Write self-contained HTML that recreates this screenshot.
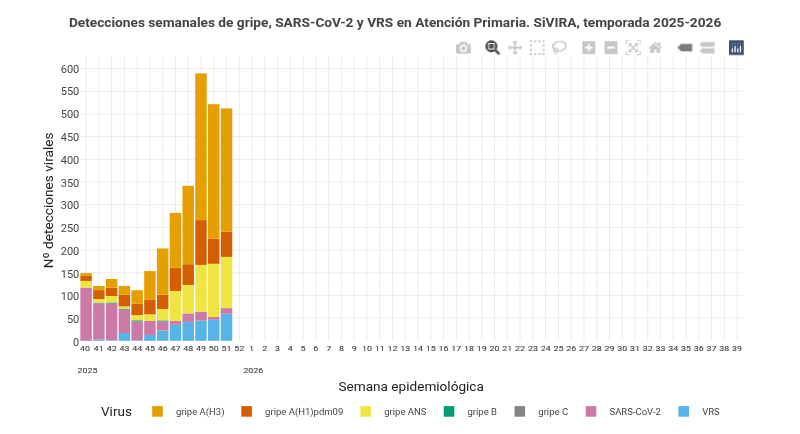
<!DOCTYPE html><html><head><meta charset="utf-8"><title>SiVIRA</title><style>html,body{margin:0;padding:0;background:#fff;overflow:hidden}svg{display:block;will-change:transform}text{font-family:Roboto, 'Liberation Sans', Arial, sans-serif}</style></head><body>
<svg width="800" height="434" viewBox="0 0 800 434">
<rect width="800" height="434" fill="#fff"/>
<path d="M86.10 56.20V340.80M98.86 56.20V340.80M111.63 56.20V340.80M124.39 56.20V340.80M137.16 56.20V340.80M149.93 56.20V340.80M162.69 56.20V340.80M175.45 56.20V340.80M188.22 56.20V340.80M200.99 56.20V340.80M213.75 56.20V340.80M226.52 56.20V340.80M239.28 56.20V340.80M252.04 56.20V340.80M264.81 56.20V340.80M277.58 56.20V340.80M290.34 56.20V340.80M303.11 56.20V340.80M315.87 56.20V340.80M328.63 56.20V340.80M341.40 56.20V340.80M354.16 56.20V340.80M366.93 56.20V340.80M379.70 56.20V340.80M392.46 56.20V340.80M405.23 56.20V340.80M417.99 56.20V340.80M430.75 56.20V340.80M443.52 56.20V340.80M456.28 56.20V340.80M469.05 56.20V340.80M481.82 56.20V340.80M494.58 56.20V340.80M507.35 56.20V340.80M520.11 56.20V340.80M532.88 56.20V340.80M545.64 56.20V340.80M558.40 56.20V340.80M571.17 56.20V340.80M583.94 56.20V340.80M596.70 56.20V340.80M609.47 56.20V340.80M622.23 56.20V340.80M635.00 56.20V340.80M647.76 56.20V340.80M660.53 56.20V340.80M673.29 56.20V340.80M686.06 56.20V340.80M698.82 56.20V340.80M711.59 56.20V340.80M724.35 56.20V340.80M737.12 56.20V340.80M80.35 318.12H742.85M80.35 295.44H742.85M80.35 272.76H742.85M80.35 250.09H742.85M80.35 227.41H742.85M80.35 204.73H742.85M80.35 182.05H742.85M80.35 159.37H742.85M80.35 136.69H742.85M80.35 114.02H742.85M80.35 91.34H742.85M80.35 68.66H742.85" stroke="#ebebeb" stroke-width="1" fill="none"/>
<rect x="80.35" y="287.60" width="11.49" height="53.20" fill="#CC79A7"/>
<rect x="80.35" y="280.90" width="11.49" height="6.70" fill="#F0E442"/>
<rect x="80.35" y="275.90" width="11.49" height="5.00" fill="#D55E00"/>
<rect x="80.35" y="273.10" width="11.49" height="2.80" fill="#E69F00"/>
<rect x="93.12" y="339.70" width="11.49" height="1.10" fill="#56B4E9"/>
<rect x="93.12" y="303.30" width="11.49" height="36.40" fill="#CC79A7"/>
<rect x="93.12" y="302.70" width="11.49" height="0.60" fill="#009E73"/>
<rect x="93.12" y="299.10" width="11.49" height="3.60" fill="#F0E442"/>
<rect x="93.12" y="290.10" width="11.49" height="9.00" fill="#D55E00"/>
<rect x="93.12" y="286.00" width="11.49" height="4.10" fill="#E69F00"/>
<rect x="105.88" y="340.30" width="11.49" height="0.50" fill="#56B4E9"/>
<rect x="105.88" y="303.50" width="11.49" height="36.80" fill="#CC79A7"/>
<rect x="105.88" y="302.50" width="11.49" height="1.00" fill="#009E73"/>
<rect x="105.88" y="296.00" width="11.49" height="6.50" fill="#F0E442"/>
<rect x="105.88" y="287.70" width="11.49" height="8.30" fill="#D55E00"/>
<rect x="105.88" y="279.00" width="11.49" height="8.70" fill="#E69F00"/>
<rect x="118.65" y="333.00" width="11.49" height="7.80" fill="#56B4E9"/>
<rect x="118.65" y="309.60" width="11.49" height="23.40" fill="#CC79A7"/>
<rect x="118.65" y="308.60" width="11.49" height="1.00" fill="#009E73"/>
<rect x="118.65" y="306.40" width="11.49" height="2.20" fill="#F0E442"/>
<rect x="118.65" y="294.80" width="11.49" height="11.60" fill="#D55E00"/>
<rect x="118.65" y="285.90" width="11.49" height="8.90" fill="#E69F00"/>
<rect x="131.41" y="340.20" width="11.49" height="0.60" fill="#56B4E9"/>
<rect x="131.41" y="321.50" width="11.49" height="18.70" fill="#CC79A7"/>
<rect x="131.41" y="320.30" width="11.49" height="1.20" fill="#009E73"/>
<rect x="131.41" y="315.10" width="11.49" height="5.20" fill="#F0E442"/>
<rect x="131.41" y="303.80" width="11.49" height="11.30" fill="#D55E00"/>
<rect x="131.41" y="290.20" width="11.49" height="13.60" fill="#E69F00"/>
<rect x="144.18" y="335.00" width="11.49" height="5.80" fill="#56B4E9"/>
<rect x="144.18" y="320.80" width="11.49" height="14.20" fill="#CC79A7"/>
<rect x="144.18" y="314.40" width="11.49" height="6.40" fill="#F0E442"/>
<rect x="144.18" y="299.90" width="11.49" height="14.50" fill="#D55E00"/>
<rect x="144.18" y="271.10" width="11.49" height="28.80" fill="#E69F00"/>
<rect x="156.94" y="330.50" width="11.49" height="10.30" fill="#56B4E9"/>
<rect x="156.94" y="321.40" width="11.49" height="9.10" fill="#CC79A7"/>
<rect x="156.94" y="320.40" width="11.49" height="1.00" fill="#009E73"/>
<rect x="156.94" y="309.00" width="11.49" height="11.40" fill="#F0E442"/>
<rect x="156.94" y="294.70" width="11.49" height="14.30" fill="#D55E00"/>
<rect x="156.94" y="248.50" width="11.49" height="46.20" fill="#E69F00"/>
<rect x="169.71" y="324.80" width="11.49" height="16.00" fill="#56B4E9"/>
<rect x="169.71" y="320.80" width="11.49" height="4.00" fill="#CC79A7"/>
<rect x="169.71" y="291.00" width="11.49" height="29.80" fill="#F0E442"/>
<rect x="169.71" y="267.70" width="11.49" height="23.30" fill="#D55E00"/>
<rect x="169.71" y="212.90" width="11.49" height="54.80" fill="#E69F00"/>
<rect x="182.47" y="321.90" width="11.49" height="18.90" fill="#56B4E9"/>
<rect x="182.47" y="313.40" width="11.49" height="8.50" fill="#CC79A7"/>
<rect x="182.47" y="285.00" width="11.49" height="28.40" fill="#F0E442"/>
<rect x="182.47" y="264.20" width="11.49" height="20.80" fill="#D55E00"/>
<rect x="182.47" y="185.80" width="11.49" height="78.40" fill="#E69F00"/>
<rect x="195.24" y="320.60" width="11.49" height="20.20" fill="#56B4E9"/>
<rect x="195.24" y="311.80" width="11.49" height="8.80" fill="#CC79A7"/>
<rect x="195.24" y="264.90" width="11.49" height="46.90" fill="#F0E442"/>
<rect x="195.24" y="220.10" width="11.49" height="44.80" fill="#D55E00"/>
<rect x="195.24" y="73.40" width="11.49" height="146.70" fill="#E69F00"/>
<rect x="208.00" y="319.80" width="11.49" height="21.00" fill="#56B4E9"/>
<rect x="208.00" y="317.00" width="11.49" height="2.80" fill="#CC79A7"/>
<rect x="208.00" y="263.80" width="11.49" height="53.20" fill="#F0E442"/>
<rect x="208.00" y="238.80" width="11.49" height="25.00" fill="#D55E00"/>
<rect x="208.00" y="104.20" width="11.49" height="134.60" fill="#E69F00"/>
<rect x="220.77" y="313.80" width="11.49" height="27.00" fill="#56B4E9"/>
<rect x="220.77" y="308.10" width="11.49" height="5.70" fill="#CC79A7"/>
<rect x="220.77" y="256.90" width="11.49" height="51.20" fill="#F0E442"/>
<rect x="220.77" y="231.80" width="11.49" height="25.10" fill="#D55E00"/>
<rect x="220.77" y="108.40" width="11.49" height="123.40" fill="#E69F00"/>
<text x="79.3" y="345.90" font-size="11" fill="#444" text-anchor="end">0</text>
<text x="79.3" y="323.13" font-size="11" fill="#444" text-anchor="end">50</text>
<text x="79.3" y="300.37" font-size="11" fill="#444" text-anchor="end">100</text>
<text x="79.3" y="277.60" font-size="11" fill="#444" text-anchor="end">150</text>
<text x="79.3" y="254.83" font-size="11" fill="#444" text-anchor="end">200</text>
<text x="79.3" y="232.07" font-size="11" fill="#444" text-anchor="end">250</text>
<text x="79.3" y="209.30" font-size="11" fill="#444" text-anchor="end">300</text>
<text x="79.3" y="186.53" font-size="11" fill="#444" text-anchor="end">350</text>
<text x="79.3" y="163.77" font-size="11" fill="#444" text-anchor="end">400</text>
<text x="79.3" y="141.00" font-size="11" fill="#444" text-anchor="end">450</text>
<text x="79.3" y="118.23" font-size="11" fill="#444" text-anchor="end">500</text>
<text x="79.3" y="95.46" font-size="11" fill="#444" text-anchor="end">550</text>
<text x="79.3" y="72.70" font-size="11" fill="#444" text-anchor="end">600</text>
<text transform="matrix(1 0 0 0.91 85.10 351.1)" font-size="8.9" fill="#444" stroke="#444" stroke-width="0.12" text-anchor="middle">40</text>
<text transform="matrix(1 0 0 0.91 98.86 351.1)" font-size="8.9" fill="#444" stroke="#444" stroke-width="0.12" text-anchor="middle">41</text>
<text transform="matrix(1 0 0 0.91 111.63 351.1)" font-size="8.9" fill="#444" stroke="#444" stroke-width="0.12" text-anchor="middle">42</text>
<text transform="matrix(1 0 0 0.91 124.39 351.1)" font-size="8.9" fill="#444" stroke="#444" stroke-width="0.12" text-anchor="middle">43</text>
<text transform="matrix(1 0 0 0.91 137.16 351.1)" font-size="8.9" fill="#444" stroke="#444" stroke-width="0.12" text-anchor="middle">44</text>
<text transform="matrix(1 0 0 0.91 149.93 351.1)" font-size="8.9" fill="#444" stroke="#444" stroke-width="0.12" text-anchor="middle">45</text>
<text transform="matrix(1 0 0 0.91 162.69 351.1)" font-size="8.9" fill="#444" stroke="#444" stroke-width="0.12" text-anchor="middle">46</text>
<text transform="matrix(1 0 0 0.91 175.45 351.1)" font-size="8.9" fill="#444" stroke="#444" stroke-width="0.12" text-anchor="middle">47</text>
<text transform="matrix(1 0 0 0.91 188.22 351.1)" font-size="8.9" fill="#444" stroke="#444" stroke-width="0.12" text-anchor="middle">48</text>
<text transform="matrix(1 0 0 0.91 200.99 351.1)" font-size="8.9" fill="#444" stroke="#444" stroke-width="0.12" text-anchor="middle">49</text>
<text transform="matrix(1 0 0 0.91 213.75 351.1)" font-size="8.9" fill="#444" stroke="#444" stroke-width="0.12" text-anchor="middle">50</text>
<text transform="matrix(1 0 0 0.91 226.52 351.1)" font-size="8.9" fill="#444" stroke="#444" stroke-width="0.12" text-anchor="middle">51</text>
<text transform="matrix(1 0 0 0.91 239.28 351.1)" font-size="8.9" fill="#444" stroke="#444" stroke-width="0.12" text-anchor="middle">52</text>
<text transform="matrix(1 0 0 0.91 251.44 351.1)" font-size="8.9" fill="#444" stroke="#444" stroke-width="0.12" text-anchor="middle">1</text>
<text transform="matrix(1 0 0 0.91 264.81 351.1)" font-size="8.9" fill="#444" stroke="#444" stroke-width="0.12" text-anchor="middle">2</text>
<text transform="matrix(1 0 0 0.91 277.58 351.1)" font-size="8.9" fill="#444" stroke="#444" stroke-width="0.12" text-anchor="middle">3</text>
<text transform="matrix(1 0 0 0.91 290.34 351.1)" font-size="8.9" fill="#444" stroke="#444" stroke-width="0.12" text-anchor="middle">4</text>
<text transform="matrix(1 0 0 0.91 303.11 351.1)" font-size="8.9" fill="#444" stroke="#444" stroke-width="0.12" text-anchor="middle">5</text>
<text transform="matrix(1 0 0 0.91 315.87 351.1)" font-size="8.9" fill="#444" stroke="#444" stroke-width="0.12" text-anchor="middle">6</text>
<text transform="matrix(1 0 0 0.91 328.63 351.1)" font-size="8.9" fill="#444" stroke="#444" stroke-width="0.12" text-anchor="middle">7</text>
<text transform="matrix(1 0 0 0.91 341.40 351.1)" font-size="8.9" fill="#444" stroke="#444" stroke-width="0.12" text-anchor="middle">8</text>
<text transform="matrix(1 0 0 0.91 354.16 351.1)" font-size="8.9" fill="#444" stroke="#444" stroke-width="0.12" text-anchor="middle">9</text>
<text transform="matrix(1 0 0 0.91 366.93 351.1)" font-size="8.9" fill="#444" stroke="#444" stroke-width="0.12" text-anchor="middle">10</text>
<text transform="matrix(1 0 0 0.91 379.70 351.1)" font-size="8.9" fill="#444" stroke="#444" stroke-width="0.12" text-anchor="middle">11</text>
<text transform="matrix(1 0 0 0.91 392.46 351.1)" font-size="8.9" fill="#444" stroke="#444" stroke-width="0.12" text-anchor="middle">12</text>
<text transform="matrix(1 0 0 0.91 405.23 351.1)" font-size="8.9" fill="#444" stroke="#444" stroke-width="0.12" text-anchor="middle">13</text>
<text transform="matrix(1 0 0 0.91 417.99 351.1)" font-size="8.9" fill="#444" stroke="#444" stroke-width="0.12" text-anchor="middle">14</text>
<text transform="matrix(1 0 0 0.91 430.75 351.1)" font-size="8.9" fill="#444" stroke="#444" stroke-width="0.12" text-anchor="middle">15</text>
<text transform="matrix(1 0 0 0.91 443.52 351.1)" font-size="8.9" fill="#444" stroke="#444" stroke-width="0.12" text-anchor="middle">16</text>
<text transform="matrix(1 0 0 0.91 456.28 351.1)" font-size="8.9" fill="#444" stroke="#444" stroke-width="0.12" text-anchor="middle">17</text>
<text transform="matrix(1 0 0 0.91 469.05 351.1)" font-size="8.9" fill="#444" stroke="#444" stroke-width="0.12" text-anchor="middle">18</text>
<text transform="matrix(1 0 0 0.91 481.82 351.1)" font-size="8.9" fill="#444" stroke="#444" stroke-width="0.12" text-anchor="middle">19</text>
<text transform="matrix(1 0 0 0.91 494.58 351.1)" font-size="8.9" fill="#444" stroke="#444" stroke-width="0.12" text-anchor="middle">20</text>
<text transform="matrix(1 0 0 0.91 507.35 351.1)" font-size="8.9" fill="#444" stroke="#444" stroke-width="0.12" text-anchor="middle">21</text>
<text transform="matrix(1 0 0 0.91 520.11 351.1)" font-size="8.9" fill="#444" stroke="#444" stroke-width="0.12" text-anchor="middle">22</text>
<text transform="matrix(1 0 0 0.91 532.88 351.1)" font-size="8.9" fill="#444" stroke="#444" stroke-width="0.12" text-anchor="middle">23</text>
<text transform="matrix(1 0 0 0.91 545.64 351.1)" font-size="8.9" fill="#444" stroke="#444" stroke-width="0.12" text-anchor="middle">24</text>
<text transform="matrix(1 0 0 0.91 558.40 351.1)" font-size="8.9" fill="#444" stroke="#444" stroke-width="0.12" text-anchor="middle">25</text>
<text transform="matrix(1 0 0 0.91 571.17 351.1)" font-size="8.9" fill="#444" stroke="#444" stroke-width="0.12" text-anchor="middle">26</text>
<text transform="matrix(1 0 0 0.91 583.94 351.1)" font-size="8.9" fill="#444" stroke="#444" stroke-width="0.12" text-anchor="middle">27</text>
<text transform="matrix(1 0 0 0.91 596.70 351.1)" font-size="8.9" fill="#444" stroke="#444" stroke-width="0.12" text-anchor="middle">28</text>
<text transform="matrix(1 0 0 0.91 609.47 351.1)" font-size="8.9" fill="#444" stroke="#444" stroke-width="0.12" text-anchor="middle">29</text>
<text transform="matrix(1 0 0 0.91 622.23 351.1)" font-size="8.9" fill="#444" stroke="#444" stroke-width="0.12" text-anchor="middle">30</text>
<text transform="matrix(1 0 0 0.91 635.00 351.1)" font-size="8.9" fill="#444" stroke="#444" stroke-width="0.12" text-anchor="middle">31</text>
<text transform="matrix(1 0 0 0.91 647.76 351.1)" font-size="8.9" fill="#444" stroke="#444" stroke-width="0.12" text-anchor="middle">32</text>
<text transform="matrix(1 0 0 0.91 660.53 351.1)" font-size="8.9" fill="#444" stroke="#444" stroke-width="0.12" text-anchor="middle">33</text>
<text transform="matrix(1 0 0 0.91 673.29 351.1)" font-size="8.9" fill="#444" stroke="#444" stroke-width="0.12" text-anchor="middle">34</text>
<text transform="matrix(1 0 0 0.91 686.06 351.1)" font-size="8.9" fill="#444" stroke="#444" stroke-width="0.12" text-anchor="middle">35</text>
<text transform="matrix(1 0 0 0.91 698.82 351.1)" font-size="8.9" fill="#444" stroke="#444" stroke-width="0.12" text-anchor="middle">36</text>
<text transform="matrix(1 0 0 0.91 711.59 351.1)" font-size="8.9" fill="#444" stroke="#444" stroke-width="0.12" text-anchor="middle">37</text>
<text transform="matrix(1 0 0 0.91 724.35 351.1)" font-size="8.9" fill="#444" stroke="#444" stroke-width="0.12" text-anchor="middle">38</text>
<text transform="matrix(1 0 0 0.91 737.12 351.1)" font-size="8.9" fill="#444" stroke="#444" stroke-width="0.12" text-anchor="middle">39</text>
<text transform="matrix(1 0 0 0.91 87.4 373.2)" font-size="8.9" fill="#444" stroke="#444" stroke-width="0.12" text-anchor="middle">2025</text>
<text transform="matrix(1 0 0 0.91 253.3 373.2)" font-size="8.9" fill="#444" stroke="#444" stroke-width="0.12" text-anchor="middle">2026</text>
<text x="411.2" y="391.2" font-size="13.6" fill="#222" text-anchor="middle">Semana epidemiológica</text>
<text transform="translate(53.4 200.4) rotate(-90)" x="0" y="0" font-size="13.65" fill="#222" text-anchor="middle">Nº detecciones virales</text>
<text x="395.1" y="26.8" font-size="13.7" font-weight="bold" fill="#444" text-anchor="middle">Detecciones semanales de gripe, SARS-CoV-2 y VRS en Atención Primaria. SiVIRA, temporada 2025-2026</text>
<text x="101" y="415.5" font-size="13.5" fill="#222">Virus</text>
<rect x="152.2" y="406.1" width="10.6" height="10.6" fill="#E69F00"/>
<text x="176.0" y="415" font-size="9.5" fill="#444">gripe A(H3)</text>
<rect x="241.3" y="406.1" width="10.6" height="10.6" fill="#D55E00"/>
<text x="265.1" y="415" font-size="9.5" fill="#444">gripe A(H1)pdm09</text>
<rect x="360.4" y="406.1" width="10.6" height="10.6" fill="#F0E442"/>
<text x="384.2" y="415" font-size="9.5" fill="#444">gripe ANS</text>
<rect x="443.7" y="406.1" width="10.6" height="10.6" fill="#009E73"/>
<text x="467.5" y="415" font-size="9.5" fill="#444">gripe B</text>
<rect x="514.5" y="406.1" width="10.6" height="10.6" fill="#858585"/>
<text x="538.3" y="415" font-size="9.5" fill="#444">gripe C</text>
<rect x="585.7" y="406.1" width="10.6" height="10.6" fill="#CC79A7"/>
<text x="609.5" y="415" font-size="9.5" fill="#444">SARS-CoV-2</text>
<rect x="678.4" y="406.1" width="10.6" height="10.6" fill="#56B4E9"/>
<text x="702.2" y="415" font-size="9.5" fill="#444">VRS</text>
<svg x="456.00" y="40.30" width="14.80" height="14.80" viewBox="0 0 1000 1000"><path d="m500 450c-83 0-150-67-150-150 0-83 67-150 150-150 83 0 150 67 150 150 0 83-67 150-150 150z m400 150h-120c-16 0-34 13-39 29l-31 93c-6 15-23 28-40 28h-340c-16 0-34-13-39-28l-31-94c-6-15-23-28-40-28h-120c-55 0-100-45-100-100v-450c0-55 45-100 100-100h800c55 0 100 45 100 100v450c0 55-45 100-100 100z m-400-550c-138 0-250 112-250 250 0 138 112 250 250 250 138 0 250-112 250-250 0-138-112-250-250-250z m365 380c-19 0-35 16-35 35 0 19 16 35 35 35 19 0 35-16 35-35 0-19-16-35-35-35z" transform="matrix(1 0 0 -1 0 850)" fill="rgba(68,68,68,0.3)"/></svg>
<svg x="485.40" y="40.30" width="14.80" height="14.80" viewBox="0 0 1000 1000"><path d="m1000-25l-250 251c40 63 63 138 63 218 0 224-182 406-407 406-224 0-406-182-406-406s183-406 407-406c80 0 155 22 218 62l250-250 125 125z m-812 250l0 438 437 0 0-438-437 0z m62 375l313 0 0-312-313 0 0 312z" transform="matrix(1 0 0 -1 0 850)" fill="#505050"/></svg>
<svg x="507.60" y="40.30" width="14.80" height="14.80" viewBox="0 0 1000 1000"><path d="m1000 350l-187 188 0-125-250 0 0 250 125 0-188 187-187-187 125 0 0-250-250 0 0 125-188-188 186-187 0 125 252 0 0-250-125 0 187-188 188 188-125 0 0 250 250 0 0-126 187 188z" transform="matrix(1 0 0 -1 0 850)" fill="rgba(68,68,68,0.3)"/></svg>
<svg x="529.80" y="40.30" width="14.80" height="14.80" viewBox="0 0 1000 1000"><path d="m0 850l0-143 143 0 0 143-143 0z m286 0l0-143 143 0 0 143-143 0z m285 0l0-143 143 0 0 143-143 0z m286 0l0-143 143 0 0 143-143 0z m-857-286l0-143 143 0 0 143-143 0z m857 0l0-143 143 0 0 143-143 0z m-857-285l0-143 143 0 0 143-143 0z m857 0l0-143 143 0 0 143-143 0z m-857-286l0-143 143 0 0 143-143 0z m286 0l0-143 143 0 0 143-143 0z m285 0l0-143 143 0 0 143-143 0z m286 0l0-143 143 0 0 143-143 0z" transform="matrix(1 0 0 -1 0 850)" fill="rgba(68,68,68,0.3)"/></svg>
<svg x="552.00" y="40.30" width="14.80" height="14.80" viewBox="0 0 1031 1000"><path d="m1018 538c-36 207-290 336-568 286-277-48-473-256-436-463 10-57 36-108 76-151-13-66 11-137 68-183 34-28 75-41 114-42l-55-70 0 0c-2-1-3-2-4-3-10-14-8-34 5-45 14-11 34-8 45 4 1 1 2 3 2 5l0 0 113 140c16 11 31 24 45 40 4 3 6 7 8 11 48-3 100 0 151 9 278 48 473 255 436 462z m-624-379c-80 14-149 48-197 96 42 42 109 47 156 9 33-26 47-66 41-105z m-187-74c-19 16-33 37-39 60 50-32 109-55 174-68-42-25-95-24-135 8z m360 75c-34-7-69-9-102-8 8 62-16 128-68 170-73 59-175 54-244-5-9 20-16 40-20 61-28 159 121 317 333 354s407-60 434-217c28-159-121-318-333-355z" transform="matrix(1 0 0 -1 0 850)" fill="rgba(68,68,68,0.3)"/></svg>
<svg x="581.40" y="40.30" width="14.80" height="14.80" viewBox="0 0 875 1000"><path d="m1 787l0-875 875 0 0 875-875 0z m687-500l-187 0 0-187-125 0 0 187-188 0 0 125 188 0 0 187 125 0 0-187 187 0 0-125z" transform="matrix(1 0 0 -1 0 850)" fill="rgba(68,68,68,0.3)"/></svg>
<svg x="603.60" y="40.30" width="14.80" height="14.80" viewBox="0 0 875 1000"><path d="m0 788l0-876 875 0 0 876-875 0z m688-500l-500 0 0 125 500 0 0-125z" transform="matrix(1 0 0 -1 0 850)" fill="rgba(68,68,68,0.3)"/></svg>
<svg x="625.80" y="40.30" width="14.80" height="14.80" viewBox="0 0 1000 1000"><path d="m250 850l-187 0-63 0 0-62 0-188 63 0 0 188 187 0 0 62z m688 0l-188 0 0-62 188 0 0-188 62 0 0 188 0 62-62 0z m-875-938l0 188-63 0 0-188 0-62 63 0 187 0 0 62-187 0z m875 188l0-188-188 0 0-62 188 0 62 0 0 62 0 188-62 0z m-125 188l-1 0-93-94-156 156 156 156 92-93 2 0 0 250-250 0 0-2 93-92-156-156-156 156 94 92 0 2-250 0 0-250 0 0 93 93 157-156-157-156-93 94 0 0 0-250 250 0 0 0-94 93 156 157 156-157-93-93 0 0 250 0 0 250z" transform="matrix(1 0 0 -1 0 850)" fill="rgba(68,68,68,0.3)"/></svg>
<svg x="648.00" y="40.30" width="14.80" height="14.80" viewBox="0 0 928.6 1000"><path d="m786 296v-267q0-15-11-26t-25-10h-214v214h-143v-214h-250q-15 0-25 10t-11 26v267q0 1 0 2t0 2l321 264 321-264q1-1 1-4z m124 39l-34-41q-5-5-12-6h-2q-7 0-12 3l-386 322-386-322q-7-4-13-4-7 2-12 7l-35 41q-4 5-3 13t6 12l401 334q18 15 42 15t43-15l136-114v109q0 8 5 13t13 5h107q8 0 13-5t5-13v-227l122-102q5-5 6-12t-4-13z" transform="matrix(1 0 0 -1 0 850)" fill="rgba(68,68,68,0.3)"/></svg>
<svg x="677.40" y="40.30" width="14.80" height="14.80" viewBox="0 0 1500 1000"><path d="m375 725l0 0-375-375 375-374 0-1 1125 0 0 750-1125 0z" transform="matrix(1 0 0 -1 0 850)" fill="rgba(68,68,68,0.7)"/></svg>
<svg x="699.60" y="40.30" width="14.80" height="14.80" viewBox="0 0 1125 1000"><path d="m187 786l0 2-187-188 188-187 0 0 937 0 0 373-938 0z m0-499l0 1-187-188 188-188 0 0 937 0 0 376-938-1z" transform="matrix(1 0 0 -1 0 850)" fill="rgba(68,68,68,0.3)"/></svg>
<svg x="729.00" y="40.30" width="14.80" height="14.80" viewBox="0 0 132 132"><rect fill="#3f4f75" width="132" height="132" rx="6" ry="6"/><g fill="#80cfbe"><circle cx="78" cy="54" r="6"/><circle cx="102" cy="30" r="6"/><circle cx="78" cy="30" r="6"/><circle cx="54" cy="30" r="6"/><circle cx="30" cy="30" r="6"/><circle cx="30" cy="54" r="6"/></g><g fill="#fff"><path d="M30,72a6,6,0,0,0-6,6v24a6,6,0,0,0,12,0V78A6,6,0,0,0,30,72Z"/><path d="M78,72a6,6,0,0,0-6,6v24a6,6,0,0,0,12,0V78A6,6,0,0,0,78,72Z"/><path d="M54,48a6,6,0,0,0-6,6v48a6,6,0,0,0,12,0V54A6,6,0,0,0,54,48Z"/><path d="M102,48a6,6,0,0,0-6,6v48a6,6,0,0,0,12,0V54A6,6,0,0,0,102,48Z"/></g></svg>
</svg></body></html>
